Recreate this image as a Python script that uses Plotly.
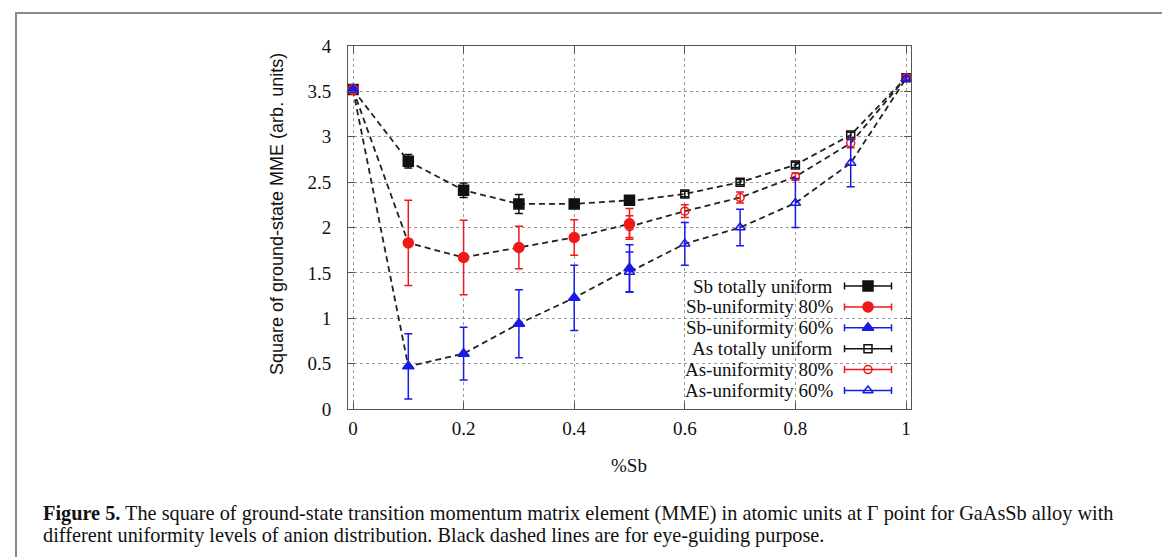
import plotly.graph_objects as go

# ---------------- data ----------------
x_sb = [0.0, 0.1, 0.2, 0.3, 0.4, 0.5]
x_as = [0.5, 0.6, 0.7, 0.8, 0.9, 1.0]

sb_uniform = [3.52, 2.73, 2.41, 2.26, 2.26, 2.30]
sb_uniform_err = [0.02, 0.075, 0.08, 0.105, 0.03, 0.05]
sb_80 = [3.52, 1.83, 1.67, 1.78, 1.89, 2.04]
sb_80_err = [0.02, 0.47, 0.41, 0.235, 0.195, 0.17]
sb_60 = [3.52, 0.47, 0.61, 0.94, 1.225, 1.55]
sb_60_err = [0.02, 0.36, 0.29, 0.375, 0.36, 0.26]

as_uniform = [2.29, 2.37, 2.50, 2.69, 3.02, 3.65]
as_uniform_err = [0.04, 0.03, 0.03, 0.03, 0.03, 0.02]
as_80 = [2.01, 2.18, 2.33, 2.56, 2.93, 3.65]
as_80_err = [0.12, 0.07, 0.06, 0.04, 0.05, 0.02]
as_60 = [1.51, 1.82, 2.00, 2.27, 2.71, 3.64]
as_60_err = [0.22, 0.235, 0.20, 0.27, 0.26, 0.02]

series_names = ["Sb totally uniform", "Sb-uniformity 80%", "Sb-uniformity 60%",
                "As totally uniform", "As-uniformity 80%", "As-uniformity 60%"]

x_ticks = [0, 0.2, 0.4, 0.6, 0.8, 1]
x_tick_labels = ["0", "0.2", "0.4", "0.6", "0.8", "1"]
y_ticks = [0, 0.5, 1, 1.5, 2, 2.5, 3, 3.5, 4]
y_tick_labels = ["0", "0.5", "1", "1.5", "2", "2.5", "3", "3.5", "4"]

caption_line1 = ("<b>Figure 5.</b> The square of ground-state transition momentum matrix element (MME) "
                 "in atomic units at \u0393 point for GaAsSb alloy with")
caption_line2 = "different uniformity levels of anion distribution. Black dashed lines are for eye-guiding purpose."

# ---------------- layout geometry (pixels) ----------------
W, H = 1170, 557
PL, PR, PT, PB = 340, 903, 38, 401   # plot area

def px(xp):
    return (xp - PL) / (PR - PL)

def py(yp):
    return (PB - yp) / (PB - PT)

BLACK = "#111111"
RED = "#f01818"
BLUE = "#1a1ae6"
SERIF = "Liberation Serif, Times New Roman, serif"
SANS = "Liberation Sans, Arial, sans-serif"

fig = go.Figure()

# eye-guide dashed lines
for ys_sb, ys_as in [(sb_uniform, as_uniform), (sb_80, as_80), (sb_60, as_60)]:
    fig.add_trace(go.Scatter(
        x=x_sb + x_as, y=ys_sb + ys_as, mode="lines",
        line=dict(color="#222222", width=1.8, dash="6px,4px"),
        showlegend=False, hoverinfo="skip"))

styles = [
    (x_sb, sb_uniform, sb_uniform_err, BLACK, "square", 10),
    (x_sb, sb_80, sb_80_err, RED, "circle", 10),
    (x_sb, sb_60, sb_60_err, BLUE, "triangle-up", 10),
    (x_as, as_uniform, as_uniform_err, BLACK, "square-open", 8),
    (x_as, as_80, as_80_err, RED, "circle-open", 8),
    (x_as, as_60, as_60_err, BLUE, "triangle-up-open", 9),
]

for (xs, ys, es, col, sym, sz), name in zip(styles, series_names):
    fig.add_trace(go.Scatter(
        x=xs, y=ys, mode="markers", name=name,
        marker=dict(symbol=sym, size=sz, color=col, line=dict(color=col, width=1.5)),
        error_y=dict(type="data", array=es, visible=True, color=col, thickness=1.5, width=4),
        showlegend=False, cliponaxis=False))

# ---------------- custom gnuplot-style key (overlay pixel axes) ----------------
row_y0, row_dy = 278, 20.9
mark_x, half_bar, text_right = 860, 23.5, 827
for i, ((xs, ys, es, col, sym, sz), name) in enumerate(zip(styles, series_names)):
    ry = row_y0 + i * row_dy
    fig.add_trace(go.Scatter(
        x=[mark_x], y=[ry], mode="markers", xaxis="x2", yaxis="y2",
        marker=dict(symbol=sym, size=sz, color=col, line=dict(color=col, width=1.5)),
        error_x=dict(type="constant", value=half_bar, visible=True, color=col,
                     thickness=1.5, width=3.5),
        showlegend=False, hoverinfo="skip", cliponaxis=False))
    fig.add_annotation(x=px(text_right), y=py(ry), xref="paper", yref="paper",
                       text=name, showarrow=False, xanchor="right", yanchor="middle",
                       font=dict(family=SERIF, size=19, color=BLACK))

# axis title annotations
fig.add_annotation(x=px(269), y=py(206), xref="paper", yref="paper",
                   text="Square of ground-state MME (arb. units)", textangle=-90,
                   showarrow=False, xanchor="center", yanchor="middle",
                   font=dict(family=SANS, size=18, color=BLACK))
fig.add_annotation(x=px(621), y=py(458), xref="paper", yref="paper",
                   text="%Sb", showarrow=False, xanchor="center", yanchor="middle",
                   font=dict(family=SERIF, size=19, color=BLACK))

# caption
fig.add_annotation(x=px(33), y=py(505), xref="paper", yref="paper", text=caption_line1,
                   showarrow=False, xanchor="left", yanchor="middle",
                   font=dict(family=SERIF, size=20.3, color=BLACK))
fig.add_annotation(x=px(33), y=py(527), xref="paper", yref="paper", text=caption_line2,
                   showarrow=False, xanchor="left", yanchor="middle",
                   font=dict(family=SERIF, size=20.3, color=BLACK))

# outer frame
fig.add_shape(type="rect", xref="paper", yref="paper",
              x0=px(8), x1=px(1163), y0=py(562), y1=py(5),
              line=dict(color="#8a8a8a", width=2), layer="below")

axis_common = dict(showline=True, linecolor="#555555", linewidth=1, mirror="allticks",
                   ticks="inside", ticklen=7, tickcolor="#555555", tickwidth=1,
                   showgrid=True, gridcolor="#9a9a9a", griddash="dot", gridwidth=1,
                   zeroline=False, tickfont=dict(family=SERIF, size=19, color=BLACK))

fig.update_layout(
    width=W, height=H,
    margin=dict(l=PL, r=W - PR, t=PT, b=H - PB, pad=0),
    paper_bgcolor="white", plot_bgcolor="white",
    showlegend=False,
    xaxis=dict(range=[-5 / 553, 1 + 5 / 553], tickvals=x_ticks, ticktext=x_tick_labels,
               ticklabelstandoff=2, **axis_common),
    yaxis=dict(range=[0, 4], tickvals=y_ticks, ticktext=y_tick_labels,
               ticklabelstandoff=12, **axis_common),
    xaxis2=dict(range=[PL, PR], overlaying="x", visible=False, fixedrange=True),
    yaxis2=dict(range=[PB, PT], overlaying="y", visible=False, fixedrange=True, anchor="x2"),
)

fig.write_html("out.html")
